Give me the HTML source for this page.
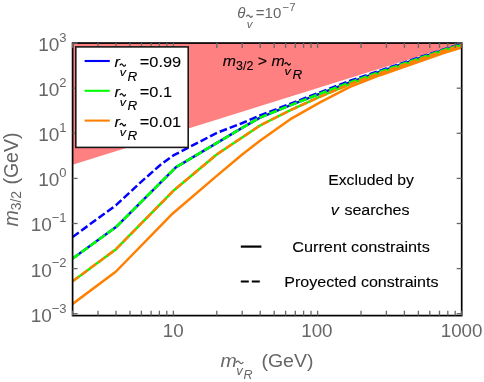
<!DOCTYPE html>
<html><head><meta charset="utf-8"><title>plot</title>
<style>
html,body{margin:0;padding:0;background:#fff;}
body{width:484px;height:382px;overflow:hidden;font-family:"Liberation Sans",sans-serif;}
svg{display:block;font-family:"Liberation Sans",sans-serif;will-change:transform;}
</style></head><body>
<svg width="484" height="382" viewBox="0 0 484 382">
<rect width="484" height="382" fill="#fff"/>
<!-- excluded region -->
<polygon points="72.6,43.0 461.7,43.0 461.8,43.1 72.6,164.8" fill="#ff8080"/>
<!-- curves -->
<clipPath id="pc"><rect x="72.60" y="43.05" width="389.10" height="272.55"/></clipPath>
<g fill="none" stroke-width="2.5" stroke-linejoin="round" clip-path="url(#pc)">
<polyline points="72.6,237.0 116.0,205.2 140.0,182.9 160.0,165.2 173.4,155.4 217.0,132.8 242.5,123.0 260.0,115.5 290.0,103.9 320.0,92.3 350.0,80.8 380.0,70.6 420.0,57.1 445.0,49.0 462.5,43.5" stroke="#0000ff" stroke-dasharray="7.7 3"/>
<polyline points="72.6,258.6 116.0,227.1 175.8,167.3 217.0,142.9 242.5,127.6 260.0,117.6 290.0,105.4 320.0,93.7 350.0,82.4 380.0,71.8 420.0,58.0 445.0,49.6 462.5,44.0" stroke="#0000ff"/>
<polyline points="72.6,258.6 116.0,227.1 175.8,167.3 217.0,142.9 242.5,127.6 260.0,117.6 290.0,105.4 320.0,93.7 350.0,82.4 380.0,71.8 420.0,58.0 445.0,49.6 462.5,44.0" stroke="#00ff00" stroke-dasharray="8 2.7" stroke-width="2.6"/>
<polyline points="72.6,281.3 116.0,249.2 174.0,190.2 217.0,154.3 242.5,137.2 260.0,125.5 290.0,110.4 320.0,96.7 350.0,84.2 380.0,73.2 420.0,59.2 445.0,50.4 462.5,44.8" stroke="#00ff00"/>
<polyline points="72.6,281.3 116.0,249.2 174.0,190.2 217.0,154.3 242.5,137.2 260.0,125.5 290.0,110.4 320.0,96.7 350.0,84.2 380.0,73.2 420.0,59.2 445.0,50.4 462.5,44.8" stroke="#ff8000" stroke-dasharray="8 2.7" stroke-width="2.6"/>
<polyline points="72.6,303.9 116.0,271.5 173.0,213.2 217.0,175.6 242.5,154.2 260.0,140.8 290.0,119.4 320.0,102.4 350.0,86.8 380.0,75.2 420.0,61.4 445.0,52.6 462.5,47.2" stroke="#ff8000"/>
</g>
<!-- frame -->
<rect x="72.60" y="43.05" width="389.10" height="272.55" fill="none" stroke="#000" stroke-width="1.7"/>
<g stroke="#666666" stroke-width="1.3">
<line x1="72.6" y1="315.6" x2="72.6" y2="310.7"/>
<line x1="72.6" y1="43.0" x2="72.6" y2="47.9"/>
<line x1="98.0" y1="315.6" x2="98.0" y2="310.7"/>
<line x1="98.0" y1="43.0" x2="98.0" y2="47.9"/>
<line x1="116.0" y1="315.6" x2="116.0" y2="310.7"/>
<line x1="116.0" y1="43.0" x2="116.0" y2="47.9"/>
<line x1="130.0" y1="315.6" x2="130.0" y2="310.7"/>
<line x1="130.0" y1="43.0" x2="130.0" y2="47.9"/>
<line x1="141.4" y1="315.6" x2="141.4" y2="310.7"/>
<line x1="141.4" y1="43.0" x2="141.4" y2="47.9"/>
<line x1="151.1" y1="315.6" x2="151.1" y2="310.7"/>
<line x1="151.1" y1="43.0" x2="151.1" y2="47.9"/>
<line x1="159.4" y1="315.6" x2="159.4" y2="310.7"/>
<line x1="159.4" y1="43.0" x2="159.4" y2="47.9"/>
<line x1="166.8" y1="315.6" x2="166.8" y2="310.7"/>
<line x1="166.8" y1="43.0" x2="166.8" y2="47.9"/>
<line x1="173.4" y1="315.6" x2="173.4" y2="310.7"/>
<line x1="173.4" y1="43.0" x2="173.4" y2="47.9"/>
<line x1="216.8" y1="315.6" x2="216.8" y2="310.7"/>
<line x1="216.8" y1="43.0" x2="216.8" y2="47.9"/>
<line x1="242.2" y1="315.6" x2="242.2" y2="310.7"/>
<line x1="242.2" y1="43.0" x2="242.2" y2="47.9"/>
<line x1="260.2" y1="315.6" x2="260.2" y2="310.7"/>
<line x1="260.2" y1="43.0" x2="260.2" y2="47.9"/>
<line x1="274.2" y1="315.6" x2="274.2" y2="310.7"/>
<line x1="274.2" y1="43.0" x2="274.2" y2="47.9"/>
<line x1="285.6" y1="315.6" x2="285.6" y2="310.7"/>
<line x1="285.6" y1="43.0" x2="285.6" y2="47.9"/>
<line x1="295.3" y1="315.6" x2="295.3" y2="310.7"/>
<line x1="295.3" y1="43.0" x2="295.3" y2="47.9"/>
<line x1="303.6" y1="315.6" x2="303.6" y2="310.7"/>
<line x1="303.6" y1="43.0" x2="303.6" y2="47.9"/>
<line x1="311.0" y1="315.6" x2="311.0" y2="310.7"/>
<line x1="311.0" y1="43.0" x2="311.0" y2="47.9"/>
<line x1="317.6" y1="315.6" x2="317.6" y2="310.7"/>
<line x1="317.6" y1="43.0" x2="317.6" y2="47.9"/>
<line x1="361.0" y1="315.6" x2="361.0" y2="310.7"/>
<line x1="361.0" y1="43.0" x2="361.0" y2="47.9"/>
<line x1="386.4" y1="315.6" x2="386.4" y2="310.7"/>
<line x1="386.4" y1="43.0" x2="386.4" y2="47.9"/>
<line x1="404.4" y1="315.6" x2="404.4" y2="310.7"/>
<line x1="404.4" y1="43.0" x2="404.4" y2="47.9"/>
<line x1="418.4" y1="315.6" x2="418.4" y2="310.7"/>
<line x1="418.4" y1="43.0" x2="418.4" y2="47.9"/>
<line x1="429.8" y1="315.6" x2="429.8" y2="310.7"/>
<line x1="429.8" y1="43.0" x2="429.8" y2="47.9"/>
<line x1="439.5" y1="315.6" x2="439.5" y2="310.7"/>
<line x1="439.5" y1="43.0" x2="439.5" y2="47.9"/>
<line x1="447.8" y1="315.6" x2="447.8" y2="310.7"/>
<line x1="447.8" y1="43.0" x2="447.8" y2="47.9"/>
<line x1="455.2" y1="315.6" x2="455.2" y2="310.7"/>
<line x1="455.2" y1="43.0" x2="455.2" y2="47.9"/>
<line x1="461.8" y1="315.6" x2="461.8" y2="310.7"/>
<line x1="461.8" y1="43.0" x2="461.8" y2="47.9"/>
<line x1="72.6" y1="313.7" x2="77.6" y2="313.7"/>
<line x1="461.7" y1="313.7" x2="456.7" y2="313.7"/>
<line x1="72.6" y1="268.6" x2="77.6" y2="268.6"/>
<line x1="461.7" y1="268.6" x2="456.7" y2="268.6"/>
<line x1="72.6" y1="223.5" x2="77.6" y2="223.5"/>
<line x1="461.7" y1="223.5" x2="456.7" y2="223.5"/>
<line x1="72.6" y1="178.4" x2="77.6" y2="178.4"/>
<line x1="461.7" y1="178.4" x2="456.7" y2="178.4"/>
<line x1="72.6" y1="133.3" x2="77.6" y2="133.3"/>
<line x1="461.7" y1="133.3" x2="456.7" y2="133.3"/>
<line x1="72.6" y1="88.2" x2="77.6" y2="88.2"/>
<line x1="461.7" y1="88.2" x2="456.7" y2="88.2"/>
<line x1="72.6" y1="43.1" x2="77.6" y2="43.1"/>
<line x1="461.7" y1="43.1" x2="456.7" y2="43.1"/>
</g>
<!-- legend box -->
<rect x="75.8" y="46.9" width="112.4" height="100.5" fill="#fff" stroke="#1a1a1a" stroke-width="1.6"/>
<g stroke-width="2.1" fill="none">
<line x1="84.6" y1="61" x2="109.8" y2="61" stroke="#0000ff"/>
<line x1="84.6" y1="90.8" x2="109.8" y2="90.8" stroke="#00ff00"/>
<line x1="84.6" y1="120.6" x2="109.8" y2="120.6" stroke="#ff8000"/>
</g>
<g fill="#000" stroke="#000" stroke-width="0.1">
<text transform="translate(114.40 67.20) scale(1.070 1)" font-size="15.3" font-style="italic">r</text><text transform="translate(119.80 76.30) scale(1.070 1)" font-size="11.8" font-style="italic">v</text><path d="M120.10 65.00 q1.35 -2.40 2.70 0 t2.70 0" fill="none" stroke="#000" stroke-width="1.3" stroke-linecap="round"/><text transform="translate(127.60 80.50) scale(1.070 1)" font-size="12.6" font-style="italic">R</text><text transform="translate(139.80 67.20) scale(1.070 1)" font-size="15.3">=0.99</text>
<text transform="translate(114.40 97.00) scale(1.070 1)" font-size="15.3" font-style="italic">r</text><text transform="translate(119.80 106.10) scale(1.070 1)" font-size="11.8" font-style="italic">v</text><path d="M120.10 94.80 q1.35 -2.40 2.70 0 t2.70 0" fill="none" stroke="#000" stroke-width="1.3" stroke-linecap="round"/><text transform="translate(127.60 110.30) scale(1.070 1)" font-size="12.6" font-style="italic">R</text><text transform="translate(139.80 97.00) scale(1.070 1)" font-size="15.3">=0.1</text>
<text transform="translate(114.40 126.80) scale(1.070 1)" font-size="15.3" font-style="italic">r</text><text transform="translate(119.80 135.90) scale(1.070 1)" font-size="11.8" font-style="italic">v</text><path d="M120.10 124.60 q1.35 -2.40 2.70 0 t2.70 0" fill="none" stroke="#000" stroke-width="1.3" stroke-linecap="round"/><text transform="translate(127.60 140.10) scale(1.070 1)" font-size="12.6" font-style="italic">R</text><text transform="translate(139.80 126.80) scale(1.070 1)" font-size="15.3">=0.01</text>
<!-- region label -->
<text transform="translate(222.80 66.40) scale(1.040 1)" font-size="15.3"><tspan font-style="italic">m</tspan><tspan font-size="12" dy="3.6">3/2</tspan><tspan dy="-3.6"> &gt; </tspan><tspan font-style="italic">m</tspan></text>
<text transform="translate(284.60 75.10) scale(1.070 1)" font-size="11.8" font-style="italic">v</text><path d="M284.90 63.80 q1.35 -2.40 2.70 0 t2.70 0" fill="none" stroke="#000" stroke-width="1.3" stroke-linecap="round"/><text transform="translate(292.40 79.30) scale(1.070 1)" font-size="12.6" font-style="italic">R</text>
<text transform="translate(328.20 185.30) scale(1.030 1)" font-size="15.3">Excluded by</text>
<text transform="translate(330.80 215.00) scale(1.070 1)" font-size="15.3" font-style="italic">v</text>
<text transform="translate(344.40 215.00) scale(1.050 1)" font-size="15.3">searches</text>
<text transform="translate(292.20 252.30) scale(1.065 1)" font-size="15.3">Current constraints</text>
<text transform="translate(284.20 287.00) scale(1.050 1)" font-size="15.3">Proyected constraints</text>
</g>
<line x1="240.8" y1="246.6" x2="261.4" y2="246.6" stroke="#000" stroke-width="2.2"/>
<line x1="240.8" y1="281.5" x2="261.4" y2="281.5" stroke="#000" stroke-width="2.2" stroke-dasharray="8 3"/>
<!-- gray labels -->
<g fill="#666666">
<text transform="translate(66.60 321.60) scale(1.000 1)" font-size="19" text-anchor="end">10<tspan font-size="13" dy="-9.1">−3</tspan></text>
<text transform="translate(66.60 276.50) scale(1.000 1)" font-size="19" text-anchor="end">10<tspan font-size="13" dy="-9.1">−2</tspan></text>
<text transform="translate(66.60 231.40) scale(1.000 1)" font-size="19" text-anchor="end">10<tspan font-size="13" dy="-9.1">−1</tspan></text>
<text transform="translate(66.60 186.30) scale(1.000 1)" font-size="19" text-anchor="end">10<tspan font-size="13" dy="-9.1">0</tspan></text>
<text transform="translate(66.60 141.20) scale(1.000 1)" font-size="19" text-anchor="end">10<tspan font-size="13" dy="-9.1">1</tspan></text>
<text transform="translate(66.60 96.10) scale(1.000 1)" font-size="19" text-anchor="end">10<tspan font-size="13" dy="-9.1">2</tspan></text>
<text transform="translate(66.60 51.00) scale(1.000 1)" font-size="19" text-anchor="end">10<tspan font-size="13" dy="-9.1">3</tspan></text>
<text transform="translate(173.20 336.60) scale(1.000 1)" font-size="18.8" text-anchor="middle">10</text>
<text transform="translate(316.90 336.60) scale(1.000 1)" font-size="18.8" text-anchor="middle">100</text>
<text transform="translate(461.60 336.60) scale(1.000 1)" font-size="18.8" text-anchor="middle">1000</text>
<!-- title -->
<text transform="translate(237.30 18.20) scale(1.000 1)" font-size="15" font-style="italic">&#952;</text>
<text transform="translate(246.70 27.70) scale(1.000 1)" font-size="11.5" font-style="italic">v</text>
<path d="M246.60 16.20 q1.45 -2.20 2.90 0 t2.90 0" fill="none" stroke="#666666" stroke-width="1.2" stroke-linecap="round"/>
<text transform="translate(255.80 18.20) scale(1.000 1)" font-size="15">=10<tspan font-size="11.5" dy="-7" dx="1.2">&#8722;7</tspan></text>
<!-- x label -->
<text transform="translate(220.60 366.60) scale(1.027 1)" font-size="19" font-style="italic">m</text>
<text transform="translate(236.20 375.40) scale(1.000 1)" font-size="13" font-style="italic">v</text>
<path d="M236.20 362.40 q1.70 -2.40 3.40 0 t3.40 0" fill="none" stroke="#666666" stroke-width="1.25" stroke-linecap="round"/>
<text transform="translate(243.60 378.60) scale(1.000 1)" font-size="12.5" font-style="italic">R</text>
<text transform="translate(261.40 366.60) scale(1.027 1)" font-size="19">(GeV)</text>
<!-- y label -->
<g transform="translate(17.9,226.6) rotate(-90)">
<text transform="translate(0.00 0.00) scale(0.975 1)" font-size="20"><tspan font-style="italic">m</tspan><tspan font-size="14.3" dy="3.4">3/2</tspan><tspan dy="-3.4" dx="6.6">(GeV)</tspan></text>
</g>
</g>
</svg>
</body></html>
